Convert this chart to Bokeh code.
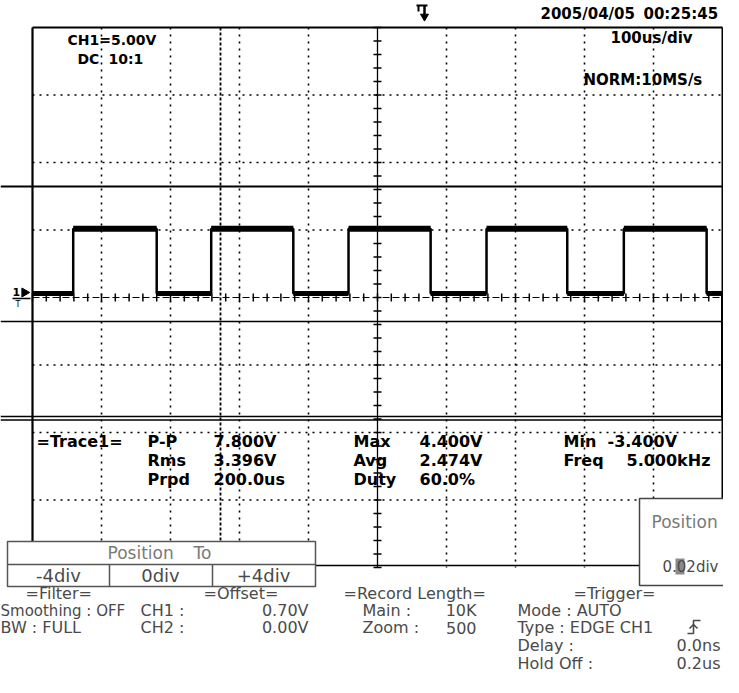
from bokeh.plotting import figure
from bokeh.models import Range1d
from bokeh.core.properties import value
from bokeh.embed import file_html
from bokeh.resources import INLINE

# ---------------- data ----------------
time_div_us = 100          # 100us/div
volt_div = 5.0             # 5.00V/div
n_div_x = 10
n_div_y = 8
rise_us = [59, 259, 458, 658, 857]
fall_us = [180, 378, 577, 775, 977]
high_v = 5.1
low_v = 0.3
meas_names_1 = ["P-P", "Rms", "Prpd"]
meas_vals_1 = ["7.800V", "3.396V", "200.0us"]
meas_names_2 = ["Max", "Avg", "Duty"]
meas_vals_2 = ["4.400V", "2.474V", "60.0%"]
meas_names_3 = ["Min", "Freq"]
meas_vals_3 = ["-3.400V", "5.000kHz"]
pos_options = ["-4div", "0div", "+4div"]

# ---------------- pixel helpers (layout only) ----------------
X0, PXX = 32.0, 69.0       # left of screen, px per div
Y0, PXY = 297.0, 67.5      # center line, px per div
def tx(px):
    return (px - X0) / PXX * time_div_us
def vy(py):
    return (Y0 - py) / PXY * volt_div

W, H = 723, 677
p = figure(width=W, height=H, x_range=Range1d(tx(0), tx(W)),
           y_range=Range1d(vy(H), vy(0)), output_backend="svg",
           toolbar_location=None, x_axis_location=None, y_axis_location=None,
           min_border=0, min_border_left=0, min_border_right=0,
           min_border_top=0, min_border_bottom=0)
p.grid.visible = False
p.outline_line_color = None
p.background_fill_color = "white"
p.border_fill_color = "white"

t_end = n_div_x * time_div_us
v_top = n_div_y / 2 * volt_div

# dotted grid
for k in range(1, n_div_x):
    if k == n_div_x // 2:
        continue
    p.line([k * time_div_us] * 2, [v_top, -v_top], line_color="black",
           line_width=1.6, line_dash="2 5")
for k in range(1, n_div_y):
    v = v_top - k * volt_div
    if abs(v) < 1e-9:
        continue
    p.line([0, t_end], [v, v], line_color="black", line_width=1.6, line_dash="2 5")

# extra dense dashed vertical (cursor-like)
p.line([tx(220)] * 2, [v_top, vy(541)], line_color="black", line_width=1.8, line_dash="3 2")

# center axes with ticks
tc = t_end / 2
p.line([tc, tc], [v_top, -v_top], line_color="black", line_width=1.3)
tick_v = [v_top - i * volt_div / 5 for i in range(n_div_y * 5 + 1)]
dt = 4 / PXX * time_div_us
p.segment(x0=[tc - dt] * len(tick_v), y0=tick_v,
          x1=[tc + dt] * len(tick_v), y1=tick_v, line_color="black", line_width=1.5)
p.line([0, t_end], [0, 0], line_color="black", line_width=1.2, line_dash="7 3")
tick_t = [i * time_div_us / 5 for i in range(n_div_x * 5 + 1)]
dv = 4 / PXY * volt_div
p.segment(x0=tick_t, y0=[-dv] * len(tick_t), x1=tick_t, y1=[dv] * len(tick_t),
          line_color="black", line_width=1.5)

# artifact solid horizontal lines
for py, lw in [(186, 2.2), (321, 1.4), (416, 1.3), (419.5, 1.3)]:
    p.line([tx(0), tx(739)], [vy(py)] * 2, line_color="black", line_width=lw)

# frame
p.line([0, t_end], [v_top, v_top], line_color="black", line_width=2)
p.line([0, 0], [v_top, vy(541)], line_color="black", line_width=2.2)
p.line([t_end, t_end], [v_top, vy(498)], line_color="black", line_width=2)
p.line([t_end, t_end], [vy(293), vy(418)], line_color="black", line_width=3)
p.line([tx(315), tx(639)], [vy(565)] * 2, line_color="black", line_width=1.5)

# waveform
xs, ys = [0], [low_v]
for r, f in zip(rise_us, fall_us):
    xs += [r, r, f, f]
    ys += [low_v, high_v, high_v, low_v]
xs.append(t_end); ys.append(low_v)
p.line(xs, ys, line_color="black", line_width=2.5)
p.segment(x0=rise_us, y0=[high_v] * 5, x1=fall_us, y1=[high_v] * 5,
          line_color="black", line_width=6)
low_starts = [0] + fall_us
low_ends = rise_us + [t_end]
p.segment(x0=low_starts, y0=[low_v] * 6, x1=low_ends, y1=[low_v] * 6,
          line_color="black", line_width=5)

# trigger position marker (top)
p.line([tx(416), tx(427)], [vy(5)] * 2, line_color="black", line_width=2)
p.line([tx(418), tx(418)], [vy(5), vy(11)], line_color="black", line_width=2)
p.line([tx(424), tx(424)], [vy(5), vy(15)], line_color="black", line_width=2.5)
p.scatter([tx(424)], [vy(16)], marker="inverted_triangle", size=8, color="black")
# trigger level marker (left)
p.text([tx(12)], [vy(291)], text=["1"], text_font=value("DejaVu Sans"),
       text_font_style="bold", text_font_size="11px", text_baseline="middle",
       text_color="black")
p.scatter([tx(24)], [vy(292)], marker="triangle", angle=-1.5708, size=9, color="black")
p.line([tx(12), tx(30)], [vy(298)] * 2, line_color="black", line_width=1.5)
p.text([tx(15)], [vy(304)], text=["T"], text_font=value("DejaVu Sans"),
       text_font_size="8px", text_baseline="middle", text_color="black")

BOLD = dict(text_font=value("DejaVu Sans"), text_font_style="bold",
            text_font_size="15px", text_baseline="middle", text_color="black")
def txt(px, py, s, **kw):
    d = dict(BOLD); d.update(kw)
    p.text([tx(px)], [vy(py)], text=[s], **d)

# header texts
txt(540, 13, "2005/04/05")
txt(643, 13, "00:25:45")
txt(67, 39, "CH1=5.00V", text_font_size="14px")
txt(77, 58, "DC", text_font_size="14px")
txt(108, 58, "10:1", text_font_size="14px")
txt(610, 37, "100us/div")
txt(583, 79, "NORM:10MS/s")

# measurements
rows = [441, 460, 479]
M = dict(text_font_size="16px")
txt(36, rows[0], "=Trace1=", **M)
for i, (n, v) in enumerate(zip(meas_names_1, meas_vals_1)):
    txt(147, rows[i], n, **M); txt(213, rows[i], v, **M)
for i, (n, v) in enumerate(zip(meas_names_2, meas_vals_2)):
    txt(353, rows[i], n, **M); txt(419, rows[i], v, **M)
for i, (n, v) in enumerate(zip(meas_names_3, meas_vals_3)):
    txt(563, rows[i], n, **M)
    txt(607 if i == 0 else 626, rows[i], v, **M)

# Position To box
p.quad(left=[tx(7)], right=[tx(315)], bottom=[vy(586)], top=[vy(541)],
       fill_color="white", line_color="#555555", line_width=1.5)
p.line([tx(7), tx(315)], [vy(564)] * 2, line_color="#555555", line_width=1.5)
for px in [109, 212]:
    p.line([tx(px)] * 2, [vy(564), vy(586)], line_color="#555555", line_width=1.5)
GREY = dict(text_font=value("DejaVu Sans"), text_font_style="normal",
            text_font_size="16px", text_baseline="middle", text_color="#4a4a4a")
def gtxt(px, py, s, **kw):
    d = dict(GREY); d.update(kw)
    p.text([tx(px)], [vy(py)], text=[s], **d)
gtxt(107, 552, "Position", text_color="#7a7a7a", text_font_size="17px")
gtxt(193, 552, "To", text_color="#7a7a7a", text_font_size="17px")
for cx, s in zip([58, 160, 263], pos_options):
    gtxt(cx, 575, s, text_align="center", text_font_size="18px")

# right Position box
p.quad(left=[tx(639)], right=[tx(745)], bottom=[vy(585)], top=[vy(498)],
       fill_color="white", line_color="#444444", line_width=1.5)
gtxt(651, 521, "Position", text_color="#7a7a7a", text_font_size="17px")
p.quad(left=[tx(675)], right=[tx(684)], bottom=[vy(574)], top=[vy(558)],
       fill_color="#8a8a8a", line_color=None)
gtxt(662, 566, "0.02div", text_font_size="15px")

# bottom status
gtxt(25, 593, "=Filter=")
gtxt(203, 593, "=Offset=")
gtxt(343, 593, "=Record Length=")
gtxt(573, 593, "=Trigger=")
gtxt(0, 610, "Smoothing : OFF", text_font_size="15px")
gtxt(140, 610, "CH1 :")
gtxt(308, 610, "0.70V", text_align="right")
gtxt(362, 610, "Main :")
gtxt(476, 610, "10K", text_align="right")
gtxt(517, 610, "Mode : AUTO")
gtxt(0, 627, "BW : FULL")
gtxt(140, 627, "CH2 :")
gtxt(308, 627, "0.00V", text_align="right")
gtxt(362, 627, "Zoom :")
gtxt(476, 627, "500", text_align="right")
gtxt(517, 627, "Type : EDGE CH1")
gtxt(517, 645, "Delay :")
gtxt(720, 645, "0.0ns", text_align="right")
gtxt(517, 663, "Hold Off :")
gtxt(720, 663, "0.2us", text_align="right")
# rising-edge trigger symbol
p.line([tx(687), tx(693), tx(693), tx(700)], [vy(633), vy(633), vy(620), vy(620)],
       line_color="#4a4a4a", line_width=1.6)
p.line([tx(689), tx(693), tx(697)], [vy(628), vy(624), vy(628)],
       line_color="#4a4a4a", line_width=1.6)

open("out.html", "w").write(file_html(p, INLINE))
